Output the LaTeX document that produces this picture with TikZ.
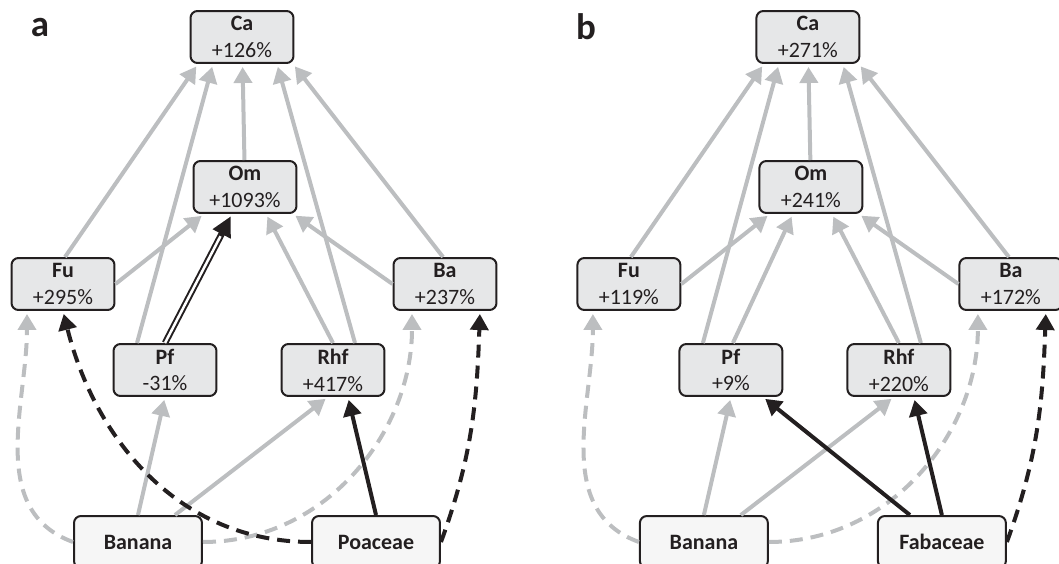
\documentclass[tikz,border=0pt]{standalone}
\usepackage{fontspec}
\setmainfont{Carlito}
\usetikzlibrary{arrows.meta}
\definecolor{traitgris}{RGB}{188,190,192}
\definecolor{fondgris}{RGB}{230,231,232}
\definecolor{fondclair}{RGB}{246,246,246}
\definecolor{noir}{RGB}{35,31,32}
% un panneau : nœuds et flèches communs
% #1 préfixe, #2 Ca, #3 Om, #4 Fu, #5 Ba, #6 Pf, #7 Rhf, #8 source
\newcommand{\Panneau}[8]{%
    \node[boite] (#1Ca) at (242,37) {\textbf{Ca}\\#2};
    \node[boite] (#1Om) at (245,187) {\textbf{Om}\\#3};
    \node[boite] (#1Fu) at (63,284) {\textbf{Fu}\\#4};
    \node[boite] (#1Ba) at (445,284) {\textbf{Ba}\\#5};
    \node[boite] (#1Pf) at (165,370) {\textbf{Pf}\\#6};
    \node[boite] (#1Rhf) at (333,370) {\textbf{Rhf}\\#7};
    \node[source] (#1Banana) at (138,542) {Banana};
    \node[source] (#1Src) at (376,542) {#8};

    % vers Ca
    \draw[garr] ([xshift=0.04cm]#1Fu.north) -- ([xshift=-0.88cm]#1Ca.south);
    \draw[garr] ([xshift=-0.56cm]#1Pf.north) -- ([xshift=-0.58cm]#1Ca.south);
    \draw[garr] (#1Om) -- (#1Ca);
    \draw[garr] ([xshift=0.44cm]#1Rhf.north) -- ([xshift=0.7cm]#1Ca.south);
    \draw[garr] ([xshift=-0.04cm]#1Ba.north) -- ([xshift=1.02cm]#1Ca.south);
    % vers Om
    \draw[garr] (#1Fu.east) -- ([xshift=-0.82cm]#1Om.south);
    \draw[garr] (#1Rhf.north) -- ([xshift=0.42cm]#1Om.south);
    \draw[garr] (#1Ba.west) -- ([xshift=0.96cm]#1Om.south);
    % depuis Banana
    \draw[garr] (#1Banana.north) -- (#1Pf.south);
    \draw[garr] ([xshift=0.74cm]#1Banana.north) -- ([xshift=-0.1cm]#1Rhf.south);
    \draw[gdash] (#1Banana.west) to[out=160,in=-90] ([xshift=-0.72cm]#1Fu.south);
    \draw[gdash] (#1Banana.east) to[out=0,in=-90] ([xshift=-0.66cm]#1Ba.south);
    % depuis la source
    \draw[barr] (#1Src.north) -- ([xshift=0.3cm]#1Rhf.south);
    \draw[bdash] (#1Src.east) to[out=70,in=-92] ([xshift=0.7cm]#1Ba.south);
}

\begin{document}
\begin{tikzpicture}[x=0.02cm,y=-0.02cm,
    boite/.style={draw=noir,fill=fondgris,text=noir,rounded corners=0.14cm,
        line width=0.04cm,minimum width=2.06cm,minimum height=1.04cm,
        inner sep=0pt,align=center,font=\fontsize{12.5}{15.3}\selectfont},
    source/.style={boite,fill=fondclair,minimum width=2.56cm,
        font=\fontsize{12.5}{15.3}\selectfont\bfseries},
    lettre/.style={text=noir,inner sep=0pt,font=\fontsize{21}{21}\selectfont\bfseries},
    garr/.style={draw=traitgris,line width=0.08cm,
        -{Triangle[length=0.32cm,width=0.36cm]},shorten >=0.06cm},
    barr/.style={draw=noir,line width=0.08cm,
        -{Triangle[length=0.32cm,width=0.36cm]},shorten >=0.06cm},
    gdash/.style={garr,dash pattern=on 0.26cm off 0.16cm},
    bdash/.style={barr,dash pattern=on 0.26cm off 0.16cm},
    dbl/.style={draw=noir,line width=0.13cm,
        -{Triangle[length=0.4cm,width=0.38cm]},shorten >=0.05cm,
        postaction={draw=white,line width=0.05cm,-,shorten >=0.5cm}}]

\useasboundingbox (0,0) rectangle (1059,564);
\clip (0,0) rectangle (1059,564);

% panneau a
\node[lettre] (la) at (40,28) {a};
\Panneau{a}{+126\%}{+1093\%}{+295\%}{+237\%}{-31\%}{+417\%}{Poaceae}
\draw[dbl] (aPf.north) -- ([xshift=-0.26cm]aOm.south);
\draw[bdash] (aSrc.west) to[out=180,in=-76] (aFu.south);

% panneau b
\node[lettre] (lb) at (586,27) {b};
\begin{scope}[xshift=11.32cm]
\Panneau{b}{+271\%}{+241\%}{+119\%}{+172\%}{+9\%}{+220\%}{Fabaceae}
\draw[garr] ([xshift=0.04cm]bPf.north) -- ([xshift=-0.36cm]bOm.south);
\draw[barr] ([xshift=-0.64cm]bSrc.north) -- ([xshift=0.64cm]bPf.south);
\end{scope}

\end{tikzpicture}
\end{document}
